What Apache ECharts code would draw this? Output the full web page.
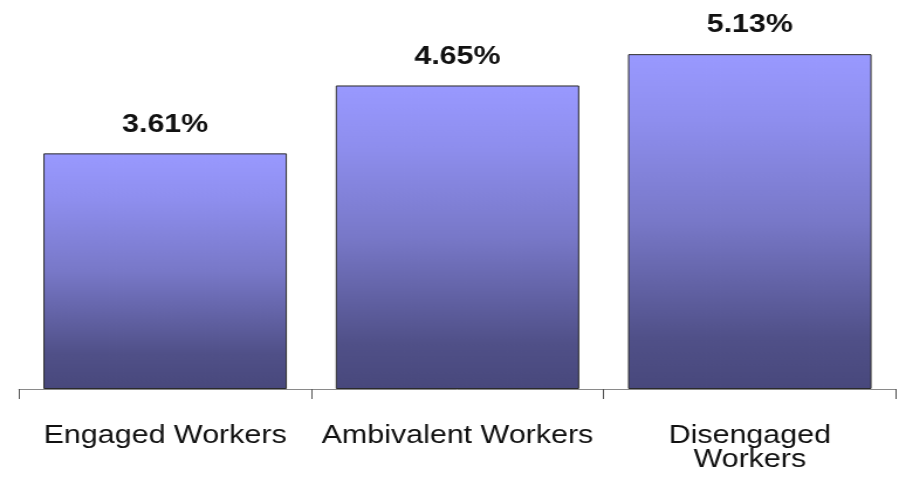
<!DOCTYPE html>
<html>
<head>
<meta charset="utf-8">
<script src="https://cdn.jsdelivr.net/npm/echarts@6/dist/echarts.min.js"></script>
<style>
  html, body { margin: 0; padding: 0; background: #ffffff; overflow: hidden; }
  #wrap { width: 899px; height: 490px; overflow: hidden; }
  /* the chart is laid out on a narrower canvas and stretched horizontally */
  #chart { width: 768px; height: 490px; transform: scale(1.17057, 1); transform-origin: 0 0; }
</style>
</head>
<body>
<div id="wrap"><div id="chart"></div></div>
<script>
const categories = ['Engaged Workers', 'Ambivalent Workers', 'Disengaged\nWorkers'];
const values = [3.61, 4.65, 5.13];
const valueLabels = ['3.61%', '4.65%', '5.13%'];

const chart = echarts.init(document.getElementById('chart'), null, { renderer: 'canvas' });

const barGradient = new echarts.graphic.LinearGradient(0, 0, 0, 1, [
  { offset: 0, color: '#9999ff' },
  { offset: 0.2, color: '#8e8eee' },
  { offset: 0.5, color: '#7878c8' },
  { offset: 0.85, color: '#505088' },
  { offset: 1, color: '#48487c' }
]);

chart.setOption({
  animation: false,
  backgroundColor: '#ffffff',
  grid: { left: 16.2, right: 2.6, top: 30, bottom: 101, containLabel: false },
  xAxis: {
    type: 'category',
    data: categories,
    boundaryGap: true,
    axisLine: { show: true, lineStyle: { color: '#8a8a8a', width: 1 } },
    axisTick: { show: true, alignWithLabel: false, length: 10, lineStyle: { color: '#555555', width: 1 } },
    axisLabel: {
      interval: 0,
      margin: 35,
      color: '#111111',
      fontFamily: 'Liberation Sans, Arial, sans-serif',
      fontSize: 26,
      lineHeight: 24
    }
  },
  yAxis: {
    type: 'value',
    min: 0,
    max: 5.5,
    show: false,
    splitLine: { show: false }
  },
  series: [{
    type: 'bar',
    data: values,
    barCategoryGap: '16.7%',
    itemStyle: { color: barGradient, borderColor: '#2a2a2a', borderWidth: 1 },
    label: {
      show: true,
      position: 'top',
      distance: 16,
      formatter: p => valueLabels[p.dataIndex],
      color: '#111111',
      fontFamily: 'Liberation Sans, Arial, sans-serif',
      fontWeight: 'bold',
      fontSize: 26
    }
  }]
});
</script>
</body>
</html>
